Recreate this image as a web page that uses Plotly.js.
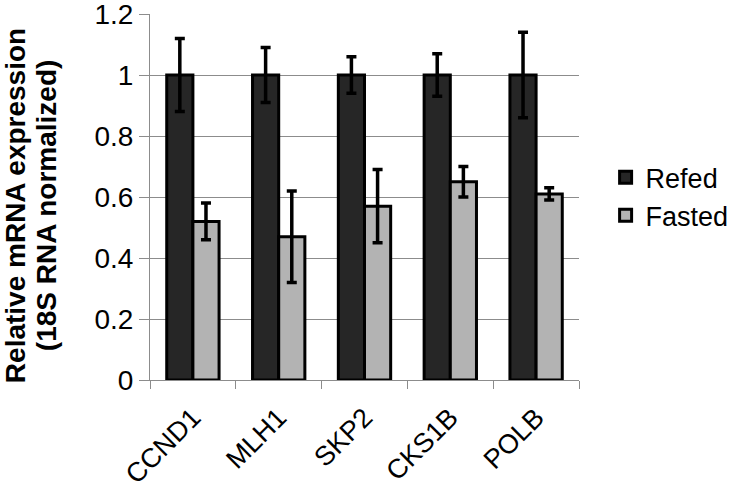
<!DOCTYPE html>
<html>
<head>
<meta charset="utf-8">
<script src="https://cdn.plot.ly/plotly-3.0.1.min.js"></script>
<style>
  html, body { margin: 0; padding: 0; background: #fff; }
  #chart { width: 747px; height: 492px; }
</style>
</head>
<body>
<div id="chart"></div>
<script>
// genes on the x axis
var genes = ['CCND1', 'MLH1', 'SKP2', 'CKS1B', 'POLB'];

// relative expression and error
var refed = [1, 1, 1, 1, 1];
var refedErr = [0.12, 0.09, 0.06, 0.07, 0.14];
var fasted = [0.52, 0.47, 0.57, 0.65, 0.61];
var fastedErr = [0.06, 0.15, 0.12, 0.05, 0.02];

var yTicks = [0, 0.2, 0.4, 0.6, 0.8, 1, 1.2];
var yTitleLines = ['Relative mRNA expression', '(18S RNA normalized)'];

var font = 'Arial, "Liberation Sans", sans-serif';

var trace1 = {
  x: genes,
  y: refed,
  name: 'Refed',
  type: 'bar',
  marker: {
    color: '#262626',
    line: { color: '#000', width: 3 }
  },
  error_y: {
    type: 'data',
    array: refedErr,
    color: '#000',
    thickness: 3.5,
    width: 5
  }
};

var trace2 = {
  x: genes,
  y: fasted,
  name: 'Fasted',
  type: 'bar',
  marker: {
    color: '#b3b3b3',
    line: { color: '#000', width: 3 }
  },
  error_y: {
    type: 'data',
    array: fastedErr,
    color: '#000',
    thickness: 3.5,
    width: 5
  }
};

// y title as two rotated lines (tighter line spacing than axis title gives)
var annotations = yTitleLines.map(function (t, i) {
  return {
    text: '<b>' + t + '</b>',
    textangle: -90,
    xref: 'paper', yref: 'paper',
    x: 0, y: 0.475,
    xanchor: 'center', yanchor: 'middle',
    xshift: -135 + i * 31,
    showarrow: false,
    font: { family: font, size: 28, color: '#000' }
  };
});

var layout = {
  width: 747,
  height: 492,
  margin: { l: 150, r: 168, t: 14, b: 112 },
  paper_bgcolor: '#fff',
  plot_bgcolor: '#fff',
  font: { family: font, color: '#000', size: 28 },
  barmode: 'group',
  bargap: 0.39,
  bargroupgap: 0,
  showlegend: true,
  // kept just inside what fits so the legend doesn't push the right margin
  legend: {
    x: 1.062,
    xanchor: 'left',
    y: 0.62,
    yanchor: 'top',
    font: { family: font, size: 27, color: '#000' }
  },
  annotations: annotations,
  xaxis: {
    type: 'category',
    tickangle: -45,
    tickson: 'boundaries',
    ticks: 'outside',
    ticklen: 8,
    tickcolor: '#8c8c8c',
    ticklabelstandoff: 10,
    showline: true,
    linecolor: '#8c8c8c',
    linewidth: 1,
    tickfont: { family: font, size: 27, color: '#000' }
  },
  yaxis: {
    range: [0, 1.2],
    tickvals: yTicks,
    ticks: 'outside',
    ticklen: 10,
    tickcolor: '#8c8c8c',
    ticklabeloverflow: 'allow',
    showline: true,
    linecolor: '#8c8c8c',
    showgrid: true,
    gridcolor: '#8c8c8c',
    gridwidth: 1,
    zeroline: false,
    tickfont: { family: font, size: 28, color: '#000' }
  }
};

Plotly.newPlot('chart', [trace1, trace2], layout, { displayModeBar: false, staticPlot: true });
</script>
</body>
</html>
